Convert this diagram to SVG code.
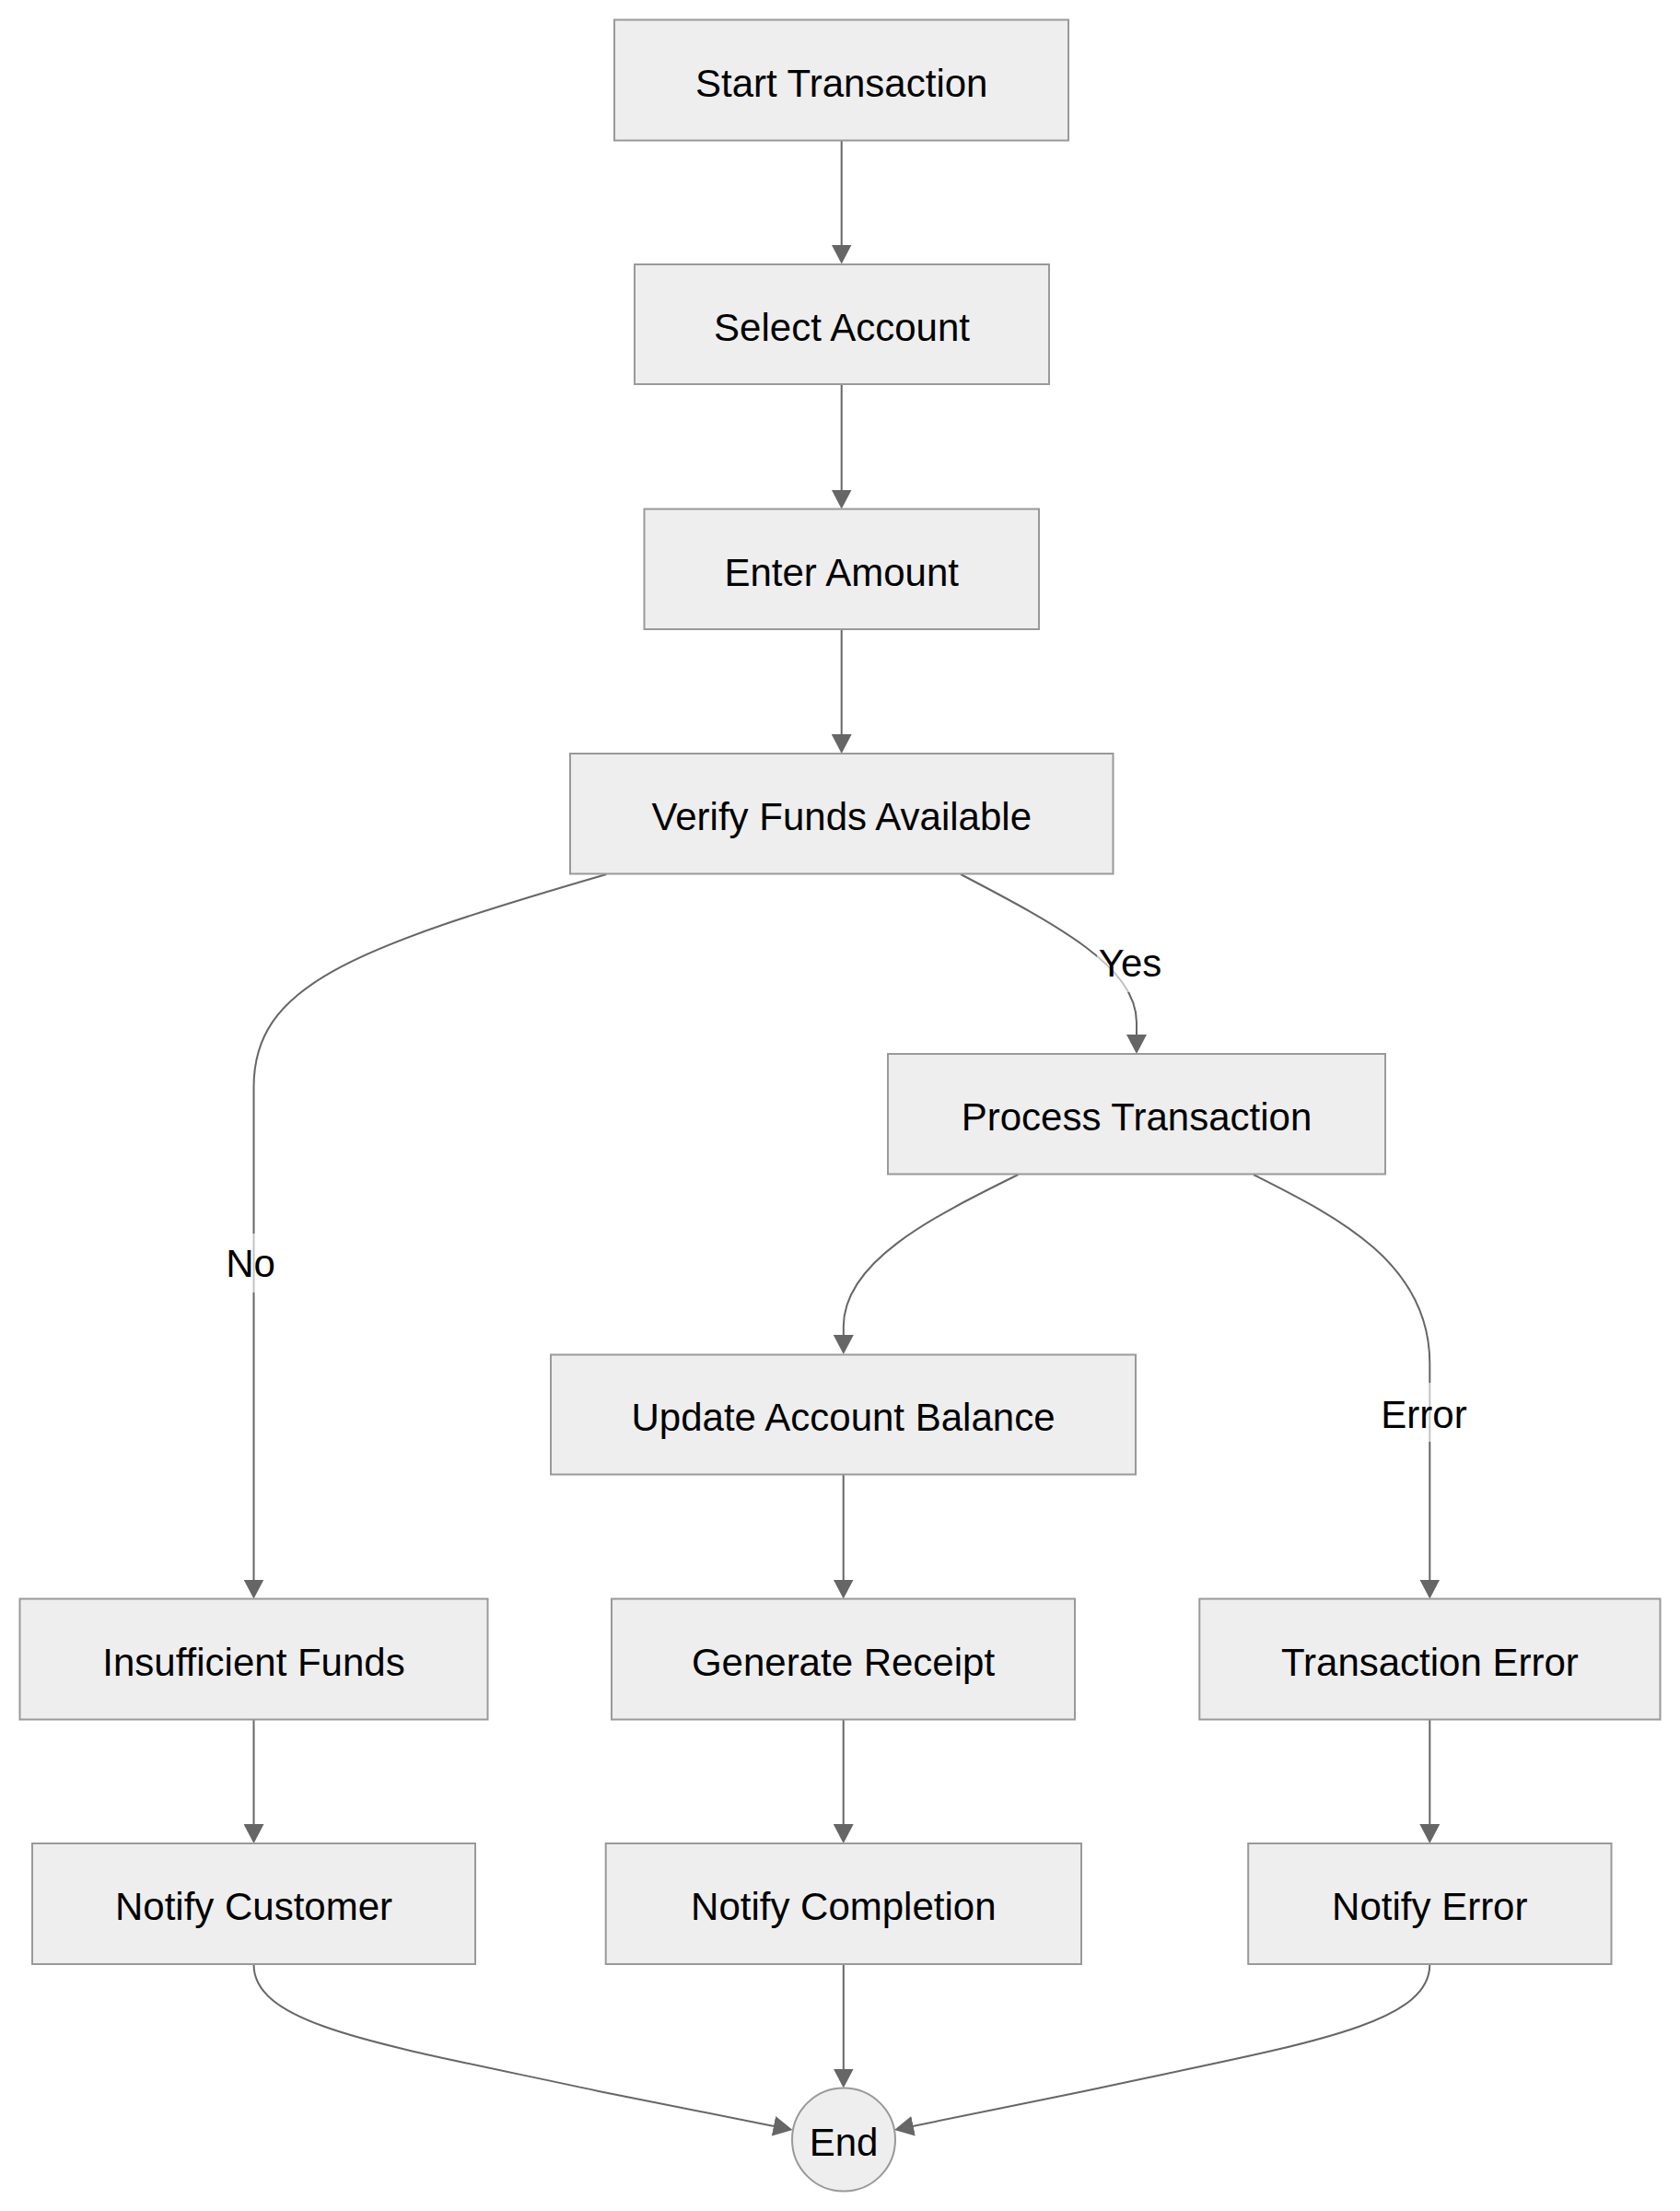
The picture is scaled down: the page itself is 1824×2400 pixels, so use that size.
<svg xmlns="http://www.w3.org/2000/svg" width="1824" height="2400" viewBox="0 0 1824 2400">
  <style>
    .node rect, .node circle { fill: #eeeeee; stroke: #999999; stroke-width: 2; }
    .node text, .lbl text { font-family: "Liberation Sans", Arial, sans-serif; font-size: 42px; fill: #000000; text-anchor: middle; }
    .edge { fill: none; stroke: #666666; stroke-width: 2; marker-end: url(#arrow); }
    .lbl rect { fill: #ffffff; fill-opacity: 0.6; stroke: none; }
  </style>
  <defs>
    <marker id="arrow" markerUnits="userSpaceOnUse" viewBox="0 0 21 22" markerWidth="21" markerHeight="22" refX="17" refY="11" orient="auto">
      <path d="M0,0 L21,11 L0,22 z" fill="#666666"/>
    </marker>
  </defs>
  <rect x="0" y="0" width="1824" height="2400" fill="#ffffff"/>

  <g id="connectors">
    <path class="edge" d="M913.7 152.5 L913.7 282.5"/>
    <path class="edge" d="M913.7 417.5 L913.7 548.5"/>
    <path class="edge" d="M913.7 683 L913.7 814"/>
    <path class="edge" d="M1043 949 C1150 1005, 1234 1050, 1234 1110 L1234 1140"/>
    <path class="edge" d="M658.5 949 C380 1030, 275.5 1070, 275.5 1180 L275.5 1731.5"/>
    <path class="edge" d="M1105.5 1275 C1010 1322, 915.8 1370, 915.8 1440 L915.8 1466"/>
    <path class="edge" d="M1361 1275 C1450 1320, 1552.3 1370, 1552.3 1480 L1552.3 1731.5"/>
    <path class="edge" d="M915.7 1601 L915.7 1731.5"/>
    <path class="edge" d="M915.7 1866.5 L915.7 1997"/>
    <path class="edge" d="M275.5 1866.5 L275.5 1997"/>
    <path class="edge" d="M1552.3 1866.5 L1552.3 1997"/>
    <path class="edge" d="M915.8 2132.5 L915.8 2262.5"/>
    <path class="edge" d="M275.5 2132.5 C275.5 2200, 420 2220, 650 2270 L856.6 2311.2"/>
    <path class="edge" d="M1552.3 2132.5 C1552.3 2200, 1407 2220, 1177 2270 L974.9 2311.2"/>
  </g>

  <g id="edge-labels">
    <g class="lbl" id="label-no">
      <rect x="244" y="1339" width="56" height="64"/>
      <text x="272" y="1386">No</text>
    </g>
    <g class="lbl" id="label-yes">
      <rect x="1191" y="1013" width="73" height="64"/>
      <text x="1227" y="1060">Yes</text>
    </g>
    <g class="lbl" id="label-error">
      <rect x="1499" y="1501" width="94" height="64"/>
      <text x="1546" y="1550">Error</text>
    </g>
  </g>

  <g id="node-start" class="node">
    <rect x="667" y="21.5" width="493" height="131"/>
    <text x="913.7" y="105">Start Transaction</text>
  </g>
  <g id="node-select" class="node">
    <rect x="689" y="287" width="450" height="130"/>
    <text x="914" y="370">Select Account</text>
  </g>
  <g id="node-enter" class="node">
    <rect x="699.5" y="552.5" width="428.5" height="130.5"/>
    <text x="913.7" y="636">Enter Amount</text>
  </g>
  <g id="node-verify" class="node">
    <rect x="619" y="818" width="589.5" height="130.5"/>
    <text x="913.8" y="901">Verify Funds Available</text>
  </g>
  <g id="node-process" class="node">
    <rect x="964" y="1144" width="540" height="130.5"/>
    <text x="1234" y="1227">Process Transaction</text>
  </g>
  <g id="node-update" class="node">
    <rect x="598" y="1470.5" width="635" height="130"/>
    <text x="915.5" y="1553">Update Account Balance</text>
  </g>
  <g id="node-insufficient" class="node">
    <rect x="21.5" y="1735.5" width="508" height="131"/>
    <text x="275.5" y="1819">Insufficient Funds</text>
  </g>
  <g id="node-receipt" class="node">
    <rect x="664" y="1735.5" width="503" height="131"/>
    <text x="915.5" y="1819">Generate Receipt</text>
  </g>
  <g id="node-txerror" class="node">
    <rect x="1302.3" y="1735.5" width="500.2" height="131"/>
    <text x="1552.4" y="1819">Transaction Error</text>
  </g>
  <g id="node-notify-customer" class="node">
    <rect x="35" y="2001" width="481" height="131"/>
    <text x="275.5" y="2084">Notify Customer</text>
  </g>
  <g id="node-notify-completion" class="node">
    <rect x="657.7" y="2001" width="516.3" height="131"/>
    <text x="915.8" y="2084">Notify Completion</text>
  </g>
  <g id="node-notify-error" class="node">
    <rect x="1355.2" y="2001" width="394.3" height="131"/>
    <text x="1552.3" y="2084">Notify Error</text>
  </g>
  <g id="node-end" class="node">
    <circle cx="916" cy="2322.5" r="56"/>
    <text x="916" y="2340">End</text>
  </g>
</svg>
